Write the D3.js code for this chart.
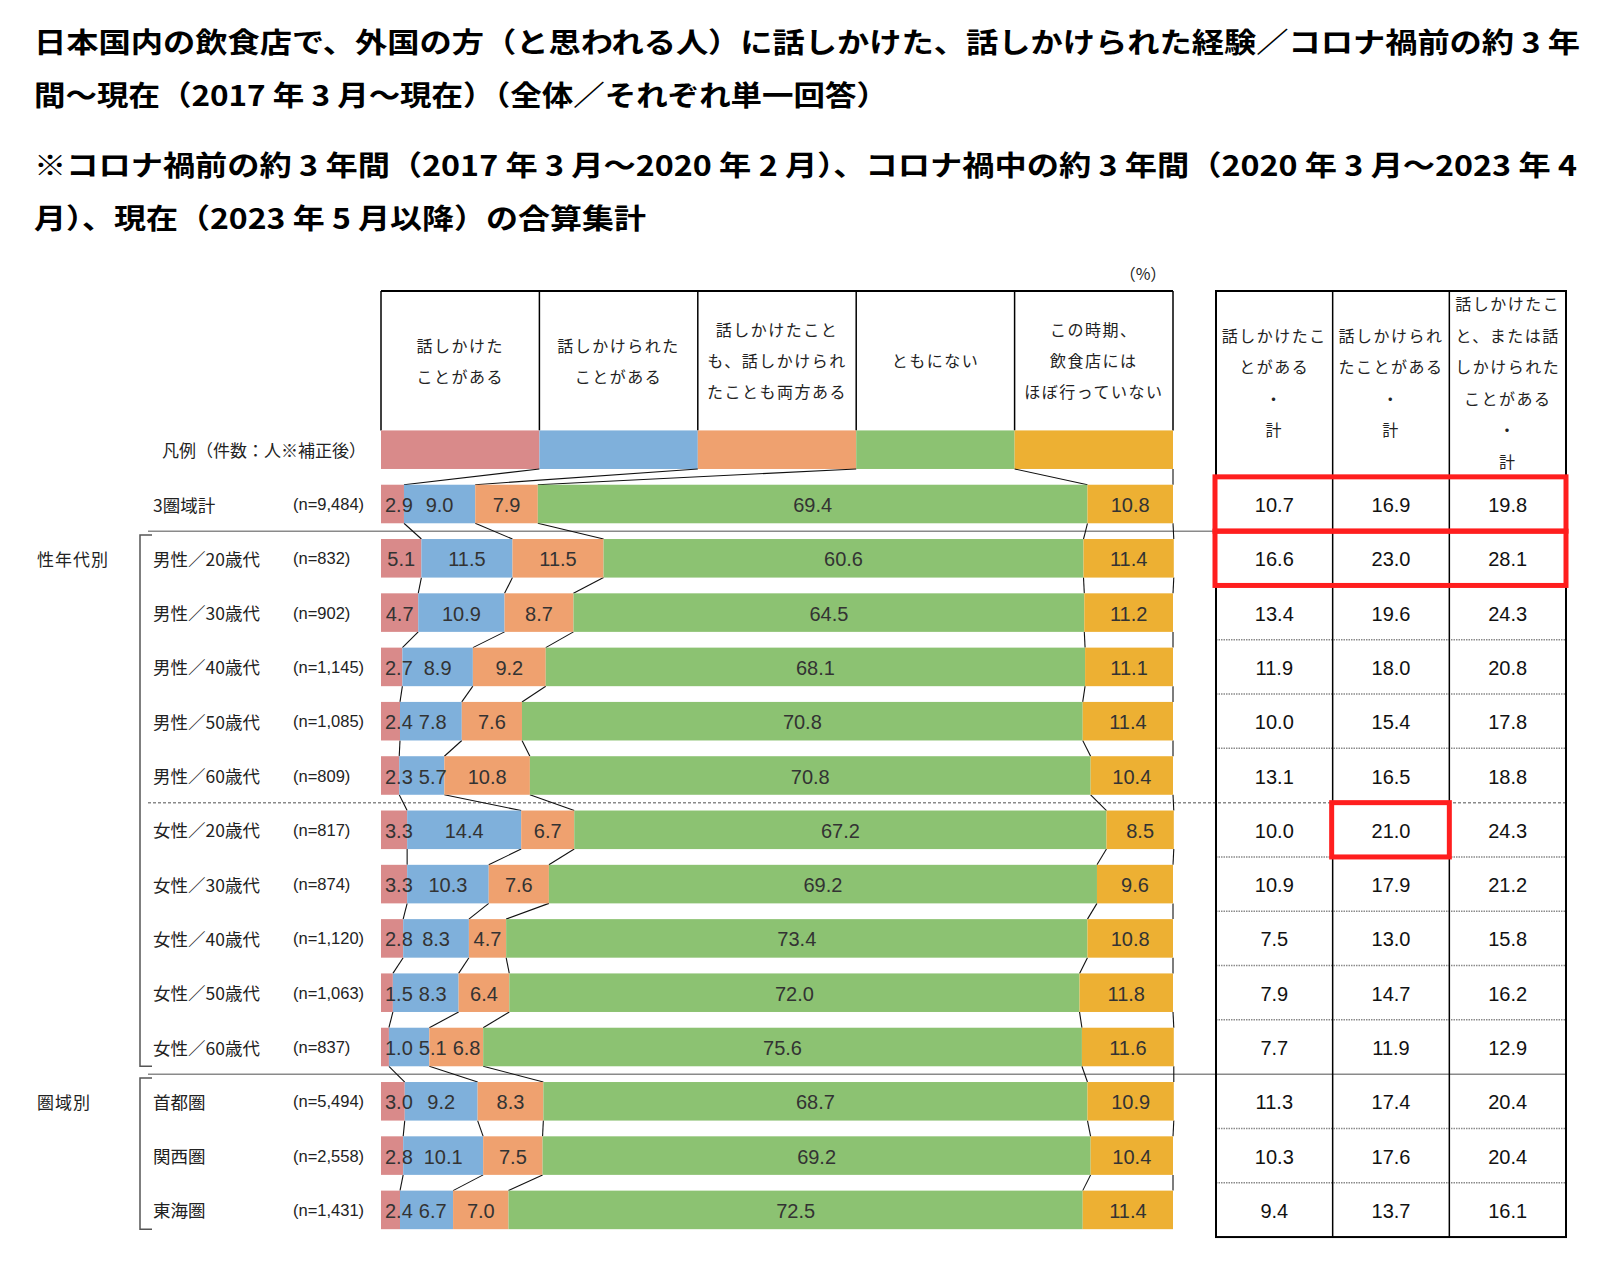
<!DOCTYPE html>
<html><head><meta charset="utf-8">
<script src="https://cdn.jsdelivr.net/npm/d3@7"></script>
<style>body{margin:0;background:#fff}svg{display:block}</style>
</head><body>
<svg id="c" width="1600" height="1275"></svg>
<script>
// ---------- data ----------
const titleLines = [
  "日本国内の飲食店で、外国の方（と思われる人）に話しかけた、話しかけられた経験／コロナ禍前の約 3 年",
  "間〜現在（2017 年 3 月〜現在）（全体／それぞれ単一回答）",
  "※コロナ禍前の約 3 年間（2017 年 3 月〜2020 年 2 月）、コロナ禍中の約 3 年間（2020 年 3 月〜2023 年 4",
  "月）、現在（2023 年 5 月以降）の合算集計"
];
const seriesNames = [
  ["話しかけた", "ことがある"],
  ["話しかけられた", "ことがある"],
  ["話しかけたこと", "も、話しかけられ", "たことも両方ある"],
  ["ともにない"],
  ["この時期、", "飲食店には", "ほぼ行っていない"]
];
const seriesKeys = ["talkedTo", "talkedBy", "both", "neither", "notVisited"];
const rowLabels = ["3圏域計", "男性／20歳代", "男性／30歳代", "男性／40歳代", "男性／50歳代", "男性／60歳代",
  "女性／20歳代", "女性／30歳代", "女性／40歳代", "女性／50歳代", "女性／60歳代", "首都圏", "関西圏", "東海圏"];
const nLabels = ["(n=9,484)", "(n=832)", "(n=902)", "(n=1,145)", "(n=1,085)", "(n=809)",
  "(n=817)", "(n=874)", "(n=1,120)", "(n=1,063)", "(n=837)", "(n=5,494)", "(n=2,558)", "(n=1,431)"];
const talkedTo   = [2.9, 5.1, 4.7, 2.7, 2.4, 2.3, 3.3, 3.3, 2.8, 1.5, 1.0, 3.0, 2.8, 2.4];
const talkedBy   = [9.0, 11.5, 10.9, 8.9, 7.8, 5.7, 14.4, 10.3, 8.3, 8.3, 5.1, 9.2, 10.1, 6.7];
const both       = [7.9, 11.5, 8.7, 9.2, 7.6, 10.8, 6.7, 7.6, 4.7, 6.4, 6.8, 8.3, 7.5, 7.0];
const neither    = [69.4, 60.6, 64.5, 68.1, 70.8, 70.8, 67.2, 69.2, 73.4, 72.0, 75.6, 68.7, 69.2, 72.5];
const notVisited = [10.8, 11.4, 11.2, 11.1, 11.4, 10.4, 8.5, 9.6, 10.8, 11.8, 11.6, 10.9, 10.4, 11.4];
const tableHeaders = [
  ["話しかけたこ", "とがある", "・", "計"],
  ["話しかけられ", "たことがある", "・", "計"],
  ["話しかけたこ", "と、または話", "しかけられた", "ことがある", "・", "計"]
];
const totalTalkedTo = [10.7, 16.6, 13.4, 11.9, 10.0, 13.1, 10.0, 10.9, 7.5, 7.9, 7.7, 11.3, 10.3, 9.4];
const totalTalkedBy = [16.9, 23.0, 19.6, 18.0, 15.4, 16.5, 21.0, 17.9, 13.0, 14.7, 11.9, 17.4, 17.6, 13.7];
const totalEither   = [19.8, 28.1, 24.3, 20.8, 17.8, 18.8, 24.3, 21.2, 15.8, 16.2, 12.9, 20.4, 20.4, 16.1];
const groups = [
  {label: "性年代別", first: 1, last: 10},
  {label: "圏域別", first: 11, last: 13}
];
const legendLabel = "凡例（件数：人※補正後）";
const unitLabel = "（%）";

// ---------- styles ----------
const colors = ["#D98A8A", "#7FB0DB", "#EFA16F", "#8CC272", "#EDB033"];
const jp = "'Noto Sans CJK JP','Noto Sans',sans-serif";
const num = "'Liberation Sans',Arial,sans-serif";

const svg = d3.select("#c");

// title
const titleY = [53, 106, 176, 229];
const titleW = [1546, 854, 1543, 612];
svg.append("g").selectAll("text").data(titleLines).join("text")
  .attr("x", 34).attr("y", (d, i) => titleY[i])
  .attr("textLength", (d, i) => titleW[i]).attr("lengthAdjust", "spacingAndGlyphs")
  .style("font-family", jp).style("font-weight", 700).style("font-size", "28px").attr("fill", "#000")
  .text(d => d);

// scales
const x = d3.scaleLinear().domain([0, 100]).range([381, 1173]);
const bandKeys = ["legend", ...rowLabels.map((d, i) => i)];
const step = 54.3;
const y = d3.scaleBand().domain(bandKeys).range([422.55, 422.55 + 15 * step]).paddingInner(0.29).paddingOuter(0.145);
const bw = y.bandwidth();
const cy = k => y(k) + bw / 2;
const colBand = d3.scaleBand().domain(seriesKeys).range([381, 1173]);

const rows = rowLabels.map((r, i) => ({
  key: i, talkedTo: talkedTo[i], talkedBy: talkedBy[i], both: both[i], neither: neither[i], notVisited: notVisited[i]
}));
const stacked = d3.stack().keys(seriesKeys)(rows);

// header boxes
const headTop = 291;
const hg = svg.append("g");
hg.append("line").attr("x1", x(0)).attr("x2", x(100)).attr("y1", headTop).attr("y2", headTop)
  .attr("stroke", "#000").attr("stroke-width", 2);
hg.selectAll("line.v").data([...seriesKeys.map(k => colBand(k)), x(100)]).join("line").attr("class", "v")
  .attr("x1", d => d).attr("x2", d => d).attr("y1", headTop).attr("y2", y("legend"))
  .attr("stroke", "#000").attr("stroke-width", 1.5);
seriesKeys.forEach((k, si) => {
  const lines = seriesNames[si];
  hg.append("g").selectAll("text").data(lines).join("text")
    .attr("x", colBand(k) + colBand.bandwidth() / 2)
    .attr("y", (d, j) => 360 + (j - (lines.length - 1) / 2) * 31)
    .attr("text-anchor", "middle").attr("dominant-baseline", "central")
    .style("font-family", jp).style("font-size", "16px").style("letter-spacing", "1.5px").attr("fill", "#222")
    .text(d => d);
});
svg.append("text").attr("x", 1143).attr("y", 273).attr("text-anchor", "middle").attr("dominant-baseline", "central")
  .style("font-family", jp).style("font-size", "16px").attr("fill", "#222").text(unitLabel);

// legend bars
svg.append("g").selectAll("rect").data(seriesKeys).join("rect")
  .attr("x", d => colBand(d)).attr("width", colBand.bandwidth())
  .attr("y", y("legend")).attr("height", bw).attr("fill", (d, i) => colors[i]);
svg.append("text").attr("x", 366).attr("y", cy("legend")).attr("text-anchor", "end").attr("dominant-baseline", "central")
  .style("font-family", jp).style("font-size", "17px").attr("fill", "#222").text(legendLabel);

// separators
const sepY = i => cy(i) + step / 2;
const seps = [{after: 0, dash: null}, {after: 5, dash: "3,2"}, {after: 10, dash: null}];
svg.append("g").selectAll("line").data(seps).join("line")
  .attr("x1", 148).attr("x2", 1566).attr("y1", d => sepY(d.after)).attr("y2", d => sepY(d.after))
  .attr("stroke", "#8a8a8a").attr("stroke-width", 1.5).attr("stroke-dasharray", d => d.dash);

// connector lines
const cg = svg.append("g").attr("stroke", "#111").attr("stroke-width", 1.1);
stacked.forEach((s, k) => {
  cg.append("line")
    .attr("x1", colBand(seriesKeys[k]) + colBand.bandwidth()).attr("y1", y("legend") + bw)
    .attr("x2", x(s[0][1])).attr("y2", y(0));
  for (let i = 0; i < rows.length - 1; i++) {
    cg.append("line")
      .attr("x1", x(s[i][1])).attr("y1", y(i) + bw)
      .attr("x2", x(s[i + 1][1])).attr("y2", y(i + 1));
  }
});

// bars
svg.append("g").selectAll("g").data(stacked).join("g").attr("fill", (d, i) => colors[i])
  .selectAll("rect").data(d => d).join("rect")
  .attr("x", d => x(d[0])).attr("width", d => x(d[1]) - x(d[0]))
  .attr("y", d => y(d.data.key)).attr("height", bw);

// bar labels with simple overlap avoidance
const lg = svg.append("g");
rows.forEach((r, i) => {
  let prevRight = x(0) - 2;
  stacked.forEach((s, k) => {
    const v = s[i].data[seriesKeys[k]];
    const t = lg.append("text").attr("y", cy(i) + 1).attr("dominant-baseline", "central")
      .style("font-family", num).style("font-size", "20px").attr("fill", "#333").text(v.toFixed(1));
    const w = t.node().getComputedTextLength();
    const c = (x(s[i][0]) + x(s[i][1])) / 2;
    let left = Math.max(c - w / 2, prevRight + 6);
    t.attr("x", left);
    prevRight = left + w;
  });
});

// row labels
const rg = svg.append("g").style("font-family", jp).attr("fill", "#222");
rg.selectAll("text.r").data(rowLabels).join("text").attr("class", "r")
  .attr("x", 153).attr("y", (d, i) => cy(i)).attr("dominant-baseline", "central")
  .style("font-size", "17.5px").text(d => d);
rg.selectAll("text.n").data(nLabels).join("text").attr("class", "n")
  .attr("x", 293).attr("y", (d, i) => cy(i)).attr("dominant-baseline", "central")
  .style("font-family", num).style("font-size", "16.5px").text(d => d);

// groups
const gg = svg.append("g");
gg.selectAll("text").data(groups).join("text")
  .attr("x", 37).attr("y", d => cy(d.first)).attr("dominant-baseline", "central")
  .style("font-family", jp).style("font-size", "17px").style("letter-spacing", "1px").attr("fill", "#222")
  .text(d => d.label);
gg.selectAll("path").data(groups).join("path")
  .attr("d", d => `M152,${y(d.first) - 4}H140V${y(d.last) + bw}H152`)
  .attr("fill", "none").attr("stroke", "#555").attr("stroke-width", 1.5);

// table
const tLeft = 1216, tRight = 1566;
const tx = d3.scaleBand().domain([0, 1, 2]).range([tLeft, tRight]);
const tHeadBottom = cy(0) - step / 2;
const tBottom = cy(rows.length - 1) + step / 2;
const tg = svg.append("g");
const rowLineIdx = d3.range(rows.length - 1).filter(i => !seps.some(s => s.after === i));
tg.selectAll("line.d").data(rowLineIdx).join("line").attr("class", "d")
  .attr("x1", tLeft).attr("x2", tRight).attr("y1", d => sepY(d)).attr("y2", d => sepY(d))
  .attr("stroke", "#8a8a8a").attr("stroke-width", 1.5).attr("stroke-dasharray", "1.5,1");
tg.append("rect").attr("x", tLeft).attr("y", headTop).attr("width", tRight - tLeft).attr("height", tBottom - headTop)
  .attr("fill", "none").attr("stroke", "#000").attr("stroke-width", 2);
tg.selectAll("line.c").data([1, 2]).join("line").attr("class", "c")
  .attr("x1", d => tx(d)).attr("x2", d => tx(d)).attr("y1", headTop).attr("y2", tBottom)
  .attr("stroke", "#000").attr("stroke-width", 1.5);
tg.append("line").attr("x1", tLeft).attr("x2", tRight).attr("y1", tHeadBottom).attr("y2", tHeadBottom)
  .attr("stroke", "#000").attr("stroke-width", 1.5);
tableHeaders.forEach((lines, ci) => {
  tg.append("g").selectAll("text").data(lines).join("text")
    .attr("x", tx(ci) + tx.bandwidth() / 2)
    .attr("y", (d, j) => 382 + (j - (lines.length - 1) / 2) * 31.6)
    .attr("text-anchor", "middle").attr("dominant-baseline", "central")
    .style("font-family", jp).style("font-size", "16px").style("letter-spacing", "1.5px").attr("fill", "#222")
    .text(d => d);
});
[totalTalkedTo, totalTalkedBy, totalEither].forEach((col, ci) => {
  tg.append("g").selectAll("text").data(col).join("text")
    .attr("x", tx(ci) + tx.bandwidth() / 2).attr("y", (d, i) => cy(i) + 1)
    .attr("text-anchor", "middle").attr("dominant-baseline", "central")
    .style("font-family", num).style("font-size", "20px").attr("fill", "#111")
    .text(d => d.toFixed(1));
});

// highlight boxes
const highlights = [{row: 0, c0: 0, c1: 2}, {row: 1, c0: 0, c1: 2}, {row: 6, c0: 1, c1: 1}];
svg.append("g").selectAll("rect").data(highlights).join("rect")
  .attr("x", d => tx(d.c0) - 1).attr("width", d => tx(d.c1) + tx.bandwidth() - tx(d.c0) + 1)
  .attr("y", d => cy(d.row) - step / 2).attr("height", step)
  .attr("fill", "none").attr("stroke", "#FF1E1E").attr("stroke-width", 5);
</script>
</body></html>
